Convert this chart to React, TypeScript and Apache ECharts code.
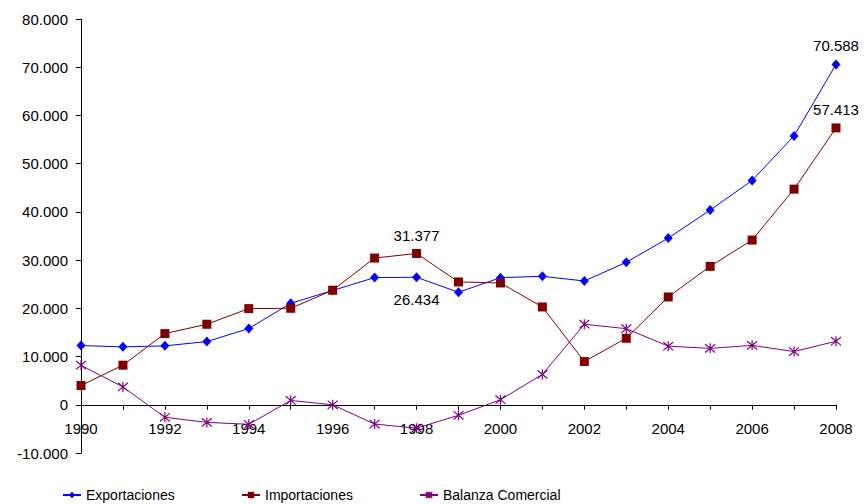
import React, { useEffect, useRef } from "react";
import * as echarts from "echarts";

const years = [
  "1990", "1991", "1992", "1993", "1994", "1995", "1996", "1997", "1998", "1999",
  "2000", "2001", "2002", "2003", "2004", "2005", "2006", "2007", "2008",
];

const exportaciones = [
  12280, 12010, 12215, 13110, 15800, 21050, 23700, 26380, 26434, 23330,
  26360, 26640, 25670, 29540, 34560, 40370, 46520, 55760, 70588,
];

const importaciones = [
  4000, 8210, 14760, 16700, 19940, 20010, 23750, 30430, 31377, 25470,
  25260, 20290, 8970, 13800, 22360, 28710, 34160, 44720, 57413,
];

const balanzaComercial = [
  8200, 3700, -2600, -3650, -4050, 900, 0, -4000, -4850, -2180,
  1050, 6300, 16700, 15780, 12150, 11700, 12320, 11040, 13175,
];

// indices of the points that carry a value label, and where it sits
const expLabels: Record<number, string> = { 8: "bottom", 18: "top" };
const impLabels: Record<number, string> = { 8: "top", 18: "top" };

const Y_MIN = -10000;
const Y_MAX = 80000;

const fmt = (v: number) => {
  const s = Math.abs(Math.round(v)).toString().replace(/\B(?=(\d{3})+(?!\d))/g, ".");
  return (v < 0 ? "-" : "") + s;
};

const FONT = "'Liberation Sans', Arial, sans-serif";
const NARROW = "'Liberation Sans Narrow', 'Arial Narrow', 'Liberation Sans', sans-serif";

const asterisk = "path://M0,0L10,10M10,0L0,10M5,-1L5,11";

function withLabels(values: number[], labels: Record<number, string>) {
  return values.map((v, i) =>
    labels[i]
      ? {
          value: v,
          label: {
            show: true,
            position: labels[i],
            distance: labels[i] === "bottom" ? 10 : 6,
            formatter: () => fmt(v),
            fontFamily: FONT,
            fontSize: 15,
            color: "#000",
          },
        }
      : v
  );
}

export default function App() {
  const ref = useRef<HTMLDivElement>(null);

  useEffect(() => {
    if (!ref.current) return;
    const chart = echarts.init(ref.current, undefined, { renderer: "svg" });

    const gridTop = 19;
    const gridBottom = 51;
    const plotH = 504 - gridTop - gridBottom;
    // shift the category axis up so it sits on the zero line, labels included
    const zeroOffset = -(plotH * (0 - Y_MIN)) / (Y_MAX - Y_MIN);

    const legendBase = {
      top: 488,
      padding: 0,
      itemWidth: 18,
      itemHeight: 8,
      itemGap: 4,
      textStyle: { fontFamily: NARROW, fontSize: 14, color: "#000" },
    };

    chart.setOption({
      animation: false,
      backgroundColor: "#fff",
      grid: { left: 81, right: 30, top: gridTop, bottom: gridBottom, containLabel: false },
      legend: [
        { ...legendBase, left: 62, data: ["Exportaciones"] },
        { ...legendBase, left: 241, data: ["Importaciones"] },
        { ...legendBase, left: 419, data: ["Balanza Comercial"] },
      ],
      xAxis: {
        type: "category",
        data: years,
        boundaryGap: false,
        offset: zeroOffset,
        axisLine: { onZero: false, lineStyle: { color: "#000", width: 1 } },
        axisTick: { show: true, interval: 0, length: 5, lineStyle: { color: "#000" } },
        axisLabel: {
          interval: 1,
          margin: 16,
          fontFamily: FONT,
          fontSize: 15,
          color: "#000",
        },
        splitLine: { show: false },
      },
      yAxis: {
        type: "value",
        min: Y_MIN,
        max: Y_MAX,
        interval: 10000,
        axisLine: { show: true, lineStyle: { color: "#000", width: 1 } },
        axisTick: { show: true, length: 5, lineStyle: { color: "#000" } },
        axisLabel: {
          margin: 13,
          fontFamily: FONT,
          fontSize: 15,
          color: "#000",
          formatter: (v: number) => fmt(v),
        },
        splitLine: { show: false },
      },
      series: [
        {
          name: "Exportaciones",
          type: "line",
          data: withLabels(exportaciones, expLabels),
          symbol: "diamond",
          symbolSize: [9, 10],
          lineStyle: { color: "#0000FF", width: 1 },
          itemStyle: { color: "#0000FF" },
          z: 3,
        },
        {
          name: "Importaciones",
          type: "line",
          data: withLabels(importaciones, impLabels),
          symbol: "rect",
          symbolSize: 9,
          lineStyle: { color: "#800000", width: 1 },
          itemStyle: { color: "#800000" },
          z: 4,
        },
        {
          name: "Balanza Comercial",
          type: "line",
          data: balanzaComercial,
          symbol: asterisk,
          symbolSize: 10,
          lineStyle: { color: "#800080", width: 1 },
          itemStyle: { color: "#800080", borderColor: "#800080", borderWidth: 1.2 },
          z: 2,
        },
      ],
    });

    return () => chart.dispose();
  }, []);

  return (
    <div
      ref={ref}
      style={{ position: "fixed", left: 0, top: 0, width: 866, height: 504 }}
    />
  );
}
